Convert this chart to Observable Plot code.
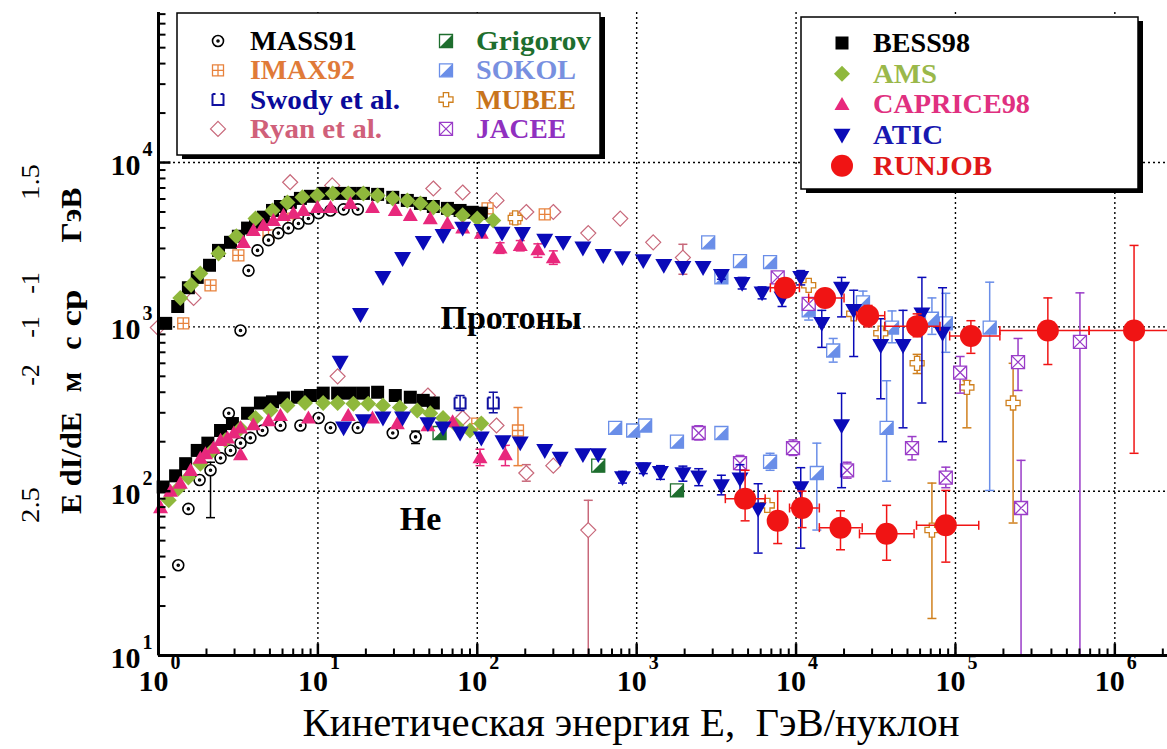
<!DOCTYPE html>
<html><head><meta charset="utf-8">
<script src="https://cdn.jsdelivr.net/npm/d3@7"></script>
<script src="https://cdn.jsdelivr.net/npm/@observablehq/plot@0.6"></script>
<style>
body{margin:0;background:#fff;overflow:hidden}
#wrap{position:relative;width:1167px;height:749px;overflow:hidden}
</style></head><body><div id="wrap"></div>
<script>
// ---------- data: [E (GeV/nucleon), flux, errLow, errHigh, xLow, xHigh] ----------
const bessP = [[1.11,1050],[1.32,1330],[1.54,1730],[1.75,2000],[2.09,2370],[2.38,2920],[2.83,3270],[3.17,3560],[3.62,3990],[4.06,4260],[4.55,4650],[5.19,5110],[5.82,5400],[6.72,5720],[7.77,6050],[8.98,6230],[10.8,6490],[13.3,6490],[16.0,6490],[19.3,6490],[23.7,6400],[29.5,6140],[36.4,5880],[44,5640],[53,5400],[65,5260],[78,5110],[93,4980],[106,4920]];
const amsP = [[1.37,1500],[1.6,1800],[1.83,2110],[2.38,2800],[3.08,3560],[4.06,4560],[5.19,5110],[6.44,5720],[8.0,6140],[9.93,6310],[12.4,6490],[15.5,6490],[19.3,6490],[23.7,6310],[29.5,6050],[36.4,5880],[44,5640],[53,5330],[65,5110],[81,4770],[100,4560],[126,4440]];
const capriceP = [[3.41,3270],[3.94,3860],[4.55,4140],[5.26,4440],[6.08,4770],[7.02,4920],[8.11,5110],[9.93,5330],[12.0,5330],[16.0,5640],[22,5330],[30.6,5110],[38,4770],[50.7,4560],[65,4260],[81,4000],[106,3720],[139,3020,2800,3250],[186,3130,2900,3350],[240,2950,2650,3200],[300,2640,2400,2900]];
const aticP = [[13.8,610],[18.5,1190],[25.6,2000],[34,2610],[45.8,3270],[61,3600],[81,3990],[107,3860],[143,3720],[192,3700],[265,3370],[346,3270],[460,3020],[617,2720],[815,2640],[1100,2530],[1480,2370],[1950,2300],[2610,2300],[3400,2060,1950,2200],[4590,1840,1700,2000],[6120,1610,1480,1750],[8170,1500,1330,1650],[10700,2000,1800,2200],[14500,1050,750,1260],[19300,1720,1150,2000],[23000,1260,660,1670],[34000,771,365,1120],[46900,771,243,1260],[61600,1200,344,2000],[83000,915,200,1730]];
const runjobP = [[8530,1730,1550,1950,6900,10500],[15200,1500,1350,1700,12000,20000],[28300,1170,1000,1350,24000,36000],[57500,1010,870,1200,36000,80000],[125000,880,690,1090,92000,190000],[380000,950,590,1500,190000,690000],[1320000,950,170,3130,690000,3000000]];
const massP = [[3.27,950],[3.67,2200],[4.18,2920],[4.9,3370],[5.65,3720],[6.53,3990],[7.55,4260],[8.72,4560],[10.1,4920],[12.0,5110],[14.5,5190],[17.8,5190]];
const imaxP = [[1.43,1050],[2.12,1790],[3.17,2720],[4.9,3600],[7.0,4560],[116,5260],[173,4560],[265,4840]];
const ryanP = [[0.99,990],[1.66,1500],[6.7,7590],[12.3,7260],[53,6950],[81,6570],[132,5880],[203,5000],[300,5000],[497,3720],[789,4560],[1270,3270],[1950,2640,2090,3180]];
const sokolP = [[2810,3270],[3400,2000],[4450,2510,2350,2700],[6870,2480],[12000,1260,1100,1450],[17100,718,610,850],[26300,1410,1200,1650],[40000,990,800,1250],[71200,1120,900,1500],[87000,1050,700,1600],[164000,990,101,1870]];
const jaceeP = [[7670,2000],[12000,1380],[107000,527,395,660],[247000,610,410,850],[604000,810,10,1610]];
const mubeeP = [[173,4600],[12000,1790],[23000,1200],[34000,915],[57500,600,520,680],[118000,428,243,470],[230000,344,64,600]];

const bessHe = [[1.07,106],[1.28,124],[1.48,147],[1.75,177],[2.04,196],[2.45,234],[2.91,258],[3.62,298],[4.36,344],[5.19,350],[6.08,369],[7.44,373],[8.98,382],[10.8,395],[13.3,395],[16,395],[19.3,395],[23.7,400],[30.6,382],[38,373],[45.8,357],[53,344]];
const amsHe = [[1.16,88],[1.33,104],[1.54,121],[1.83,147],[2.18,177],[2.63,204],[3.27,241],[4.06,279],[5.04,310],[6.44,332],[8.3,344],[10.8,344],[13.3,344],[16.7,340],[20.7,340],[25.6,332],[32.7,323],[42,310],[50.7,298],[61,279],[74,251],[90,234],[106,258]];
const capriceHe = [[1.03,79.5],[1.19,100],[1.37,112],[1.59,134],[1.83,159],[1.97,169],[2.21,183],[2.45,204],[2.71,211],[2.97,226],[3.27,243],[3.27,167],[3.94,254],[4.9,269],[5.82,289],[8.72,279],[15.5,289],[22,279],[31.5,258],[49,251],[70,265],[104,160,143,180],[150,167,143,190]];
const aticHe = [[14.5,243],[19.3,269],[25.6,279],[34,279],[49,258],[61,243],[78,226],[106,211],[145,200],[186,197],[265,177],[331,159],[460,167],[574,167],[815,121,112,132],[1100,137,128,148],[1410,130,118,143],[1950,128,115,142],[2450,122,108,137],[3400,108,95,125],[4450,119,95,145],[5780,78,42,111],[10700,105,45,139],[19300,251,105,394]];
const runjobHe = [[4790,90,66,134,3600,6400],[7670,66,48,100,6800,8700],[10900,79,60,100,9100,14000],[19000,60,44,76,14000,26000],[37000,55,38,82,25000,55000],[87000,62,37,101,57000,140000]];
const massHe = [[1.33,35.4],[1.54,78],[1.81,117],[2.12,134,69,150],[2.45,159],[2.76,298],[2.83,177],[3.27,196],[3.77,211],[4.49,234],[5.82,251],[7.77,251],[10.1,279],[12,243],[17.8,243],[29.5,226],[41,214,195,232]];
const imaxHe = [[100,258],[180,234,143,323]];
const swodyHe = [[78,344,310,382],[126,344,300,400]];
const ryanHe = [[13.3,500],[49,382],[81,279],[132,251],[203,129,115,145],[300,143],[497,58,10,88]];
const grigorovHe = [[58,226],[574,143],[1790,101]];
const sokolHe = [[733,243],[951,234],[1130,251],[1790,200],[3400,226],[6870,151,134,170],[13500,129,58,196],[37000,243,115,470]];
const jaceeHe = [[2450,226,205,250],[4450,148,135,165],[9570,183,165,205],[20900,134,120,150],[53400,183,155,215],[87000,121,105,140],[258000,79,10,154]];
const mubeeHe = [[6600,82],[71200,58,16.8,112]];

const xDecades = [1,10,100,1e3,1e4,1e5,1e6];
const yDecades = [10,100,1e3,1e4];
const xDomain = [1, 2.14e6];
const yDomain = [10, 81850];
const annotations = [{E:163, F:1125, t:"Протоны"}, {E:44, F:68, t:"He"}];
const xTitle = "Кинетическая энергия E,  ГэВ/нуклон";
const yLabelMain = ["E dI/dE","м","с","ср","ГэВ"];
const yLabelSup = ["2.5","-2","-1","-1","1.5"];
const legendLeftNames = ["MASS91","IMAX92","Swody et al.","Ryan et al.","Grigorov","SOKOL","MUBEE","JACEE"];
const legendLeftKeys = ["mass","imax","swody","ryan","grigorov","sokol","mubee","jacee"];
const legendRightNames = ["BESS98","AMS","CAPRICE98","ATIC","RUNJOB"];
const legendRightKeys = ["bess","ams","caprice","atic","runjob"];

// ---------- layout (pixels) ----------
const FONT = "'Liberation Serif','Times New Roman',Times,'DejaVu Serif',serif";
const yLabelMainPos = [[70,463,102],[70,382,0],[70,343,0],[70,308,37],[70,215,55]];
const yLabelSupPos = [[30,505,36],[30,375,0],[30,327,0],[30,283,0],[30,182,36]];
const legendLeftText = ["#000","#e07a38","#0a0a9a","#d0607a","#1e6e2e","#7890e0","#c8741c","#9030c0"];
const legendLeftLen = [107,105,150,132,115,100,100,90];
const legendRightText = ["#000","#9ab84a","#e03080","#1818b0","#e01818"];
const legendRightLen = [97,64,157,70,119];

// ---------- symbols ----------
const R = s => Math.sqrt(s/Math.PI);
const sym = {
  square:{draw(c,s){const r=R(s);c.rect(-r,-r,2*r,2*r);}},
  diamond:{draw(c,s){const r=R(s);c.moveTo(0,-r);c.lineTo(r,0);c.lineTo(0,r);c.lineTo(-r,0);c.closePath();}},
  triUp:{draw(c,s){const r=R(s);c.moveTo(0,-r);c.lineTo(r,0.75*r);c.lineTo(-r,0.75*r);c.closePath();}},
  triDown:{draw(c,s){const r=R(s);c.moveTo(0,r);c.lineTo(r,-0.75*r);c.lineTo(-r,-0.75*r);c.closePath();}},
  circleDot:{draw(c,s){const r=R(s);c.moveTo(r,0);c.arc(0,0,r,0,2*Math.PI);c.moveTo(1,0);c.arc(0,0,1,0,2*Math.PI);}},
  boxPlus:{draw(c,s){const r=R(s);c.rect(-r,-r,2*r,2*r);c.moveTo(-r,0);c.lineTo(r,0);c.moveTo(0,-r);c.lineTo(0,r);}},
  boxX:{draw(c,s){const r=R(s);c.rect(-r,-r,2*r,2*r);c.moveTo(-r,-r);c.lineTo(r,r);c.moveTo(r,-r);c.lineTo(-r,r);}},
  greek:{draw(c,s){const r=R(s),a=0.38*r;c.moveTo(-a,-r);c.lineTo(a,-r);c.lineTo(a,-a);c.lineTo(r,-a);c.lineTo(r,a);c.lineTo(a,a);c.lineTo(a,r);c.lineTo(-a,r);c.lineTo(-a,a);c.lineTo(-r,a);c.lineTo(-r,-a);c.lineTo(-a,-a);c.closePath();}},
  bracket:{draw(c,s){const r=R(s);c.moveTo(-r,-r);c.lineTo(-r,r);c.lineTo(r,r);c.lineTo(r,-r);c.moveTo(-r,-r);c.lineTo(-0.45*r,-r);c.moveTo(r,-r);c.lineTo(0.45*r,-r);}},
  half:{draw(c,s){const r=R(s);c.moveTo(r,-r);c.lineTo(r,r);c.lineTo(-r,r);c.closePath();}},
  hcap:{draw(c,s){const r=R(s);c.moveTo(-r,0);c.lineTo(r,0);}},
  vcap:{draw(c,s){const r=R(s);c.moveTo(0,-r);c.lineTo(0,r);}},
  tickUp:{draw(c,s){const r=R(s);c.moveTo(0,0);c.lineTo(0,-r);}},
  tickRight:{draw(c,s){const r=R(s);c.moveTo(0,0);c.lineTo(r,0);}}
};

const styles = {
  mass:{symbol:sym.circleDot,r:5.5,fill:"white",stroke:"#000",sw:1.6,color:"#000"},
  imax:{symbol:sym.boxPlus,r:5.5,fill:"white",stroke:"#e8823c",sw:1.3,color:"#e8823c"},
  swody:{symbol:sym.bracket,r:5.5,fill:"none",stroke:"#1010a0",sw:2,color:"#1010a0"},
  ryan:{symbol:sym.diamond,r:7.5,fill:"white",stroke:"#c8687a",sw:1.2,color:"#c8687a"},
  grigorov:{symbol:sym.square,r:6.5,fill:"white",stroke:"#1e6e2e",sw:1.3,overlay:sym.half,color:"#1e6e2e"},
  sokol:{symbol:sym.square,r:6.5,fill:"white",stroke:"#6a8ee8",sw:1.3,overlay:sym.half,color:"#6a8ee8"},
  mubee:{symbol:sym.greek,r:7,fill:"white",stroke:"#d0801e",sw:1.3,color:"#d0801e"},
  jacee:{symbol:sym.boxX,r:6.5,fill:"white",stroke:"#9a3cc8",sw:1.3,color:"#9a3cc8"},
  bess:{symbol:sym.square,r:6.5,fill:"#000",stroke:"none",sw:0,color:"#000"},
  ams:{symbol:sym.diamond,r:8,fill:"#8fb83c",stroke:"none",sw:0,color:"#8fb83c"},
  caprice:{symbol:sym.triUp,r:7.5,fill:"#e8287c",stroke:"none",sw:0,color:"#e8287c"},
  atic:{symbol:sym.triDown,r:8.5,fill:"#0a0ab8",stroke:"none",sw:0,color:"#0a0ab8"},
  runjob:{symbol:"circle",r:11,fill:"#f01414",stroke:"none",sw:0,color:"#f01414"}
};

function series(data, st) {
  const m = [];
  const eb = data.filter(d => d.length >= 4);
  if (eb.length) {
    m.push(Plot.ruleX(eb, {x:d=>d[0], y1:d=>d[2], y2:d=>d[3], stroke:st.color, strokeWidth:1.5}));
    m.push(Plot.dot(eb.filter(d=>d[2]>10), {x:d=>d[0], y:d=>d[2], symbol:sym.hcap, r:4.5, stroke:st.color, strokeWidth:1.5}));
    m.push(Plot.dot(eb, {x:d=>d[0], y:d=>d[3], symbol:sym.hcap, r:4.5, stroke:st.color, strokeWidth:1.5}));
  }
  const xb = data.filter(d => d.length >= 6);
  if (xb.length) {
    m.push(Plot.ruleY(xb, {y:d=>d[1], x1:d=>d[4], x2:d=>d[5], stroke:st.color, strokeWidth:1.5}));
    m.push(Plot.dot(xb, {x:d=>d[4], y:d=>d[1], symbol:sym.vcap, r:4.5, stroke:st.color, strokeWidth:1.5}));
    m.push(Plot.dot(xb, {x:d=>d[5], y:d=>d[1], symbol:sym.vcap, r:4.5, stroke:st.color, strokeWidth:1.5}));
  }
  m.push(Plot.dot(data, {x:d=>d[0], y:d=>d[1], symbol:st.symbol, r:st.r, fill:st.fill, stroke:st.stroke, strokeWidth:st.sw}));
  if (st.overlay) m.push(Plot.dot(data, {x:d=>d[0], y:d=>d[1], symbol:st.overlay, r:st.r, fill:st.color, stroke:"none"}));
  return m;
}

const xMinor = []; for (const d of xDecades) for (let k=2;k<=9;k++) if (d*k <= xDomain[1]) xMinor.push(d*k);
const yMinor = []; for (const d of yDecades) for (let k=2;k<=9;k++) if (d*k <= yDomain[1]) yMinor.push(d*k);
const yBot = yDomain[0], xLeft = xDomain[0];

const gridStyle = {stroke:"#000", strokeWidth:1.4, strokeDasharray:"2,3"};
const marks = [
  Plot.ruleX(xDecades.slice(1), gridStyle),
  Plot.ruleY(yDecades.slice(1), gridStyle),
  ...series(ryanP, styles.ryan), ...series(ryanHe, styles.ryan),
  ...series(imaxP, styles.imax), ...series(imaxHe, styles.imax),
  ...series(swodyHe, styles.swody),
  ...series(grigorovHe, styles.grigorov),
  ...series(sokolP, styles.sokol), ...series(sokolHe, styles.sokol),
  ...series(mubeeP, styles.mubee), ...series(mubeeHe, styles.mubee),
  ...series(jaceeP, styles.jacee), ...series(jaceeHe, styles.jacee),
  ...series(massP, styles.mass), ...series(massHe, styles.mass),
  ...series(bessP, styles.bess), ...series(bessHe, styles.bess),
  ...series(amsP, styles.ams), ...series(amsHe, styles.ams),
  ...series(capriceP, styles.caprice), ...series(capriceHe, styles.caprice),
  ...series(aticP, styles.atic), ...series(aticHe, styles.atic),
  ...series(runjobP, styles.runjob), ...series(runjobHe, styles.runjob),
  Plot.text(annotations, {x:"E", y:"F", text:"t", fontSize:34, fontWeight:"bold", fill:"#000"}),
  // axes
  Plot.ruleX([xLeft], {stroke:"#000", strokeWidth:3}),
  Plot.ruleY([yBot], {stroke:"#000", strokeWidth:3}),
  Plot.dot(xMinor, {x:d=>d, y:()=>yBot, symbol:sym.tickUp, r:7, stroke:"#000", strokeWidth:2}),
  Plot.dot(xDecades, {x:d=>d, y:()=>yBot, symbol:sym.tickUp, r:12, stroke:"#000", strokeWidth:2.5}),
  Plot.dot(yMinor, {x:()=>xLeft, y:d=>d, symbol:sym.tickRight, r:7, stroke:"#000", strokeWidth:2}),
  Plot.dot(yDecades, {x:()=>xLeft, y:d=>d, symbol:sym.tickRight, r:12, stroke:"#000", strokeWidth:2.5}),
  Plot.text(xDecades, {x:d=>d, y:()=>yBot, text:()=>"10", dx:-5, dy:26, fontSize:30, fontWeight:"bold", textAnchor:"middle"}),
  Plot.text(xDecades, {x:d=>d, y:()=>yBot, text:d=>String(Math.round(Math.log10(d))), dx:12, dy:7, fontSize:20, fontWeight:"bold", textAnchor:"start"}),
  Plot.text(yDecades, {x:()=>xLeft, y:d=>d, text:()=>"10", dx:-18, dy:3, fontSize:30, fontWeight:"bold", textAnchor:"end"}),
  Plot.text(yDecades, {x:()=>xLeft, y:d=>d, text:d=>String(Math.round(Math.log10(d))), dx:-16, dy:-13, fontSize:20, fontWeight:"bold", textAnchor:"start"})
];

const chart = Plot.plot({
  width:1167, height:749,
  marginLeft:158, marginRight:0, marginTop:12, marginBottom:94,
  x:{type:"log", domain:xDomain, axis:null},
  y:{type:"log", domain:yDomain, axis:null},
  style:{fontFamily:FONT, background:"white", color:"#000"},
  marks
});
const wrap = document.getElementById("wrap");
wrap.appendChild(chart);

// ---------- labels and legends added to the Plot SVG ----------
const svg = d3.select(chart);
function fitText(sel, len) { if (len) sel.attr("textLength", len).attr("lengthAdjust", "spacingAndGlyphs"); return sel; }
svg.append("text").attr("x", 631).attr("y", 736).attr("text-anchor","middle")
  .attr("font-size", 39).attr("font-family", FONT).attr("fill","#000").style("white-space","pre")
  .call(s => fitText(s, 657)).text(xTitle);
yLabelMain.forEach((t,i) => {
  const [x,y,len] = yLabelMainPos[i];
  svg.append("text").attr("transform",`translate(${x},${y}) rotate(-90)`).attr("text-anchor","middle")
    .attr("dominant-baseline","central").attr("font-size",30).attr("font-weight","bold").attr("font-family",FONT)
    .call(s => fitText(s, len)).text(t);
});
yLabelSup.forEach((t,i) => {
  const [x,y,len] = yLabelSupPos[i];
  svg.append("text").attr("transform",`translate(${x},${y}) rotate(-90)`).attr("text-anchor","middle")
    .attr("dominant-baseline","central").attr("font-size",26).attr("font-family",FONT)
    .call(s => fitText(s, len)).text(t);
});

function drawIcon(g, st) {
  const s = st.symbol === "circle" ? d3.symbolCircle : st.symbol;
  const p = d3.path(); s.draw(p, Math.PI*st.r*st.r);
  g.append("path").attr("d", p.toString()).attr("fill", st.fill).attr("stroke", st.stroke).attr("stroke-width", st.sw);
  if (st.overlay) { const q = d3.path(); st.overlay.draw(q, Math.PI*st.r*st.r); g.append("path").attr("d", q.toString()).attr("fill", st.color); }
}
function legendBox(x0, y0, w, h, names, keys, colors, lens, pos) {
  const g = svg.append("g").attr("text-anchor","start");
  g.append("rect").attr("x",x0+5).attr("y",y0+4).attr("width",w).attr("height",h).attr("fill","#000");
  g.append("rect").attr("x",x0).attr("y",y0).attr("width",w).attr("height",h).attr("fill","#fff").attr("stroke","#000").attr("stroke-width",1.5);
  names.forEach((name,i) => {
    const [ix, tx, base] = pos(i);
    drawIcon(g.append("g").attr("transform",`translate(${ix},${base-9})`), styles[keys[i]]);
    g.append("text").attr("x",tx).attr("y",base).attr("text-anchor","start").attr("fill",colors[i]).attr("font-size",27).attr("font-weight","bold")
      .attr("font-family",FONT).style("white-space","pre").call(s => fitText(s, lens[i])).text(name);
  });
}
legendBox(177, 13, 423, 142, legendLeftNames, legendLeftKeys, legendLeftText, legendLeftLen, i => {
  const col = Math.floor(i/4), row = i%4;
  return [col ? 446 : 218, col ? 476 : 250, 50 + row*29.3];
});
legendBox(801, 17, 337, 172, legendRightNames, legendRightKeys, legendRightText, legendRightLen, i => [842, 873, 52 + i*30.7]);
</script></body></html>
